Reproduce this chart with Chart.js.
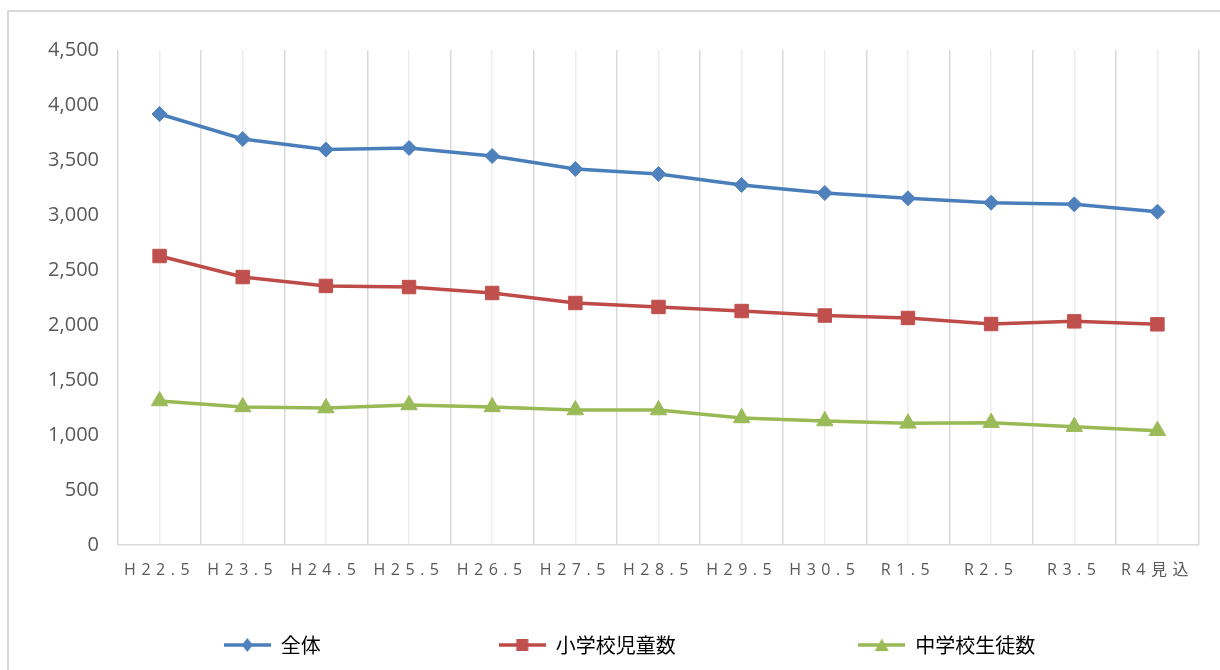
<!DOCTYPE html>
<html>
<head>
<meta charset="utf-8">
<script src="https://cdn.jsdelivr.net/npm/chart.js@4"></script>
<style>
  body { margin: 0; background: #fff; }
  #frame { position: absolute; left: 7px; top: 10px; width: 1230px; height: 680px; border: 2px solid #d9d9d9; }
  #wrap { position: absolute; left: 0; top: 0; width: 1220px; height: 670px; }
</style>
</head>
<body>
<div id="frame"></div>
<div id="wrap"><canvas id="chart-line"></canvas></div>
<script>
const categories = ['H22.5','H23.5','H24.5','H25.5','H26.5','H27.5','H28.5','H29.5','H30.5','R1.5','R2.5','R3.5','R4見込'];
const seriesNames = ['全体','小学校児童数','中学校生徒数'];
const total = [3918,3691,3595,3609,3536,3418,3373,3273,3200,3152,3112,3097,3030];
const elementary = [2627,2436,2355,2345,2291,2200,2164,2127,2086,2064,2009,2033,2006];
const juniorHigh = [1309,1255,1245,1273,1255,1227,1227,1155,1127,1106,1112,1076,1039];
const yTicks = [0,500,1000,1500,2000,2500,3000,3500,4000,4500];

const colors = ['#4a7ebb','#be4b48','#98b954'];
const markerFill = ['#4f81bd','#c0504d','#9bbb59'];
const markers = ['rectRot','rect','triangle'];
const markerSize = [7.5,9.5,9.5];

// legend swatch: a short line with the marker in the middle
function swatch(i) {
  const c = document.createElement('canvas');
  c.width = 47; c.height = 20;
  const g = c.getContext('2d');
  g.strokeStyle = colors[i];
  g.lineWidth = 3.5;
  g.beginPath(); g.moveTo(0, 10); g.lineTo(47, 10); g.stroke();
  g.fillStyle = markerFill[i];
  g.beginPath();
  if (i == 0) { g.moveTo(23.5, 3); g.lineTo(29, 10); g.lineTo(23.5, 17); g.lineTo(18, 10); }
  else if (i == 1) { g.rect(17.5, 4, 12, 12); }
  else { g.moveTo(23.5, 3.5); g.lineTo(30.5, 16); g.lineTo(16.5, 16); }
  g.closePath(); g.fill();
  return c;
}

// spacing after each legend text so the items sit far apart
const gaps = ['\u3000'.repeat(8), '\u3000'.repeat(8) + ' ', '\u3000\u3000    '];

const xLetterSpacing = {
  id: 'xLetterSpacing',
  afterLayout(chart) {
    const sc = chart.scales.x;
    if (sc._spaced) return;
    const orig = sc.drawLabels;
    sc.drawLabels = function(area) {
      chart.ctx.save();
      chart.ctx.letterSpacing = '5.5px';
      orig.call(this, area);
      chart.ctx.restore();
    };
    sc._spaced = true;
  }
};

const ctx = document.getElementById('chart-line').getContext('2d');
new Chart(ctx, {
  type: 'line',
  data: {
    labels: categories,
    datasets: [total, elementary, juniorHigh].map((d, i) => ({
      label: seriesNames[i],
      data: d,
      borderColor: colors[i],
      backgroundColor: markerFill[i],
      borderWidth: 3.5,
      tension: 0,
      pointStyle: markers[i],
      pointRadius: markerSize[i],
      pointHoverRadius: markerSize[i],
      pointBorderWidth: 1,
      pointBorderColor: markerFill[i],
      xAxisID: 'x'
    }))
  },
  options: {
    responsive: true,
    maintainAspectRatio: false,
    animation: false,
    layout: { padding: { left: 0, top: 50, right: 21, bottom: 5 } },
    plugins: {
      legend: {
        position: 'bottom',
        fullSize: false,
        labels: {
          usePointStyle: true,
          pointStyleWidth: 47,
          padding: 18,
          color: '#595959',
          font: { size: 20, family: "'Noto Sans CJK JP'" },
          generateLabels(chart) {
            return chart.data.datasets.map((ds, i) => ({
              text: ds.label + gaps[i],
              pointStyle: swatch(i),
              fillStyle: markerFill[i],
              strokeStyle: colors[i],
              lineWidth: 0,
              hidden: false,
              datasetIndex: i
            }));
          }
        }
      },
      tooltip: { enabled: false }
    },
    scales: {
      y: {
        min: 0,
        max: 4500,
        afterBuildTicks(scale) { scale.ticks = yTicks.map(v => ({ value: v })); },
        afterFit(scale) { scale.width = 118; },
        grid: { display: false, drawTicks: false },
        border: { display: false },
        ticks: {
          padding: 19,
          color: '#595959',
          font: { size: 20, family: "'Open Sans'" },
          callback: v => v.toLocaleString('en-US')
        }
      },
      x: {
        offset: true,
        afterFit(scale) { scale.height = 72; },
        grid: { offset: true, color: '#d9d9d9', lineWidth: 1.5, drawTicks: false },
        border: { color: '#d9d9d9', width: 1.5 },
        ticks: {
          padding: 16,
          color: '#595959',
          maxRotation: 0,
          autoSkip: false,
          font: { size: 16, family: "'Open Sans', 'Noto Sans CJK JP'" }
        }
      },
      x2: {
        type: 'category',
        labels: categories,
        position: 'bottom',
        offset: true,
        afterFit(scale) { scale.height = 0; },
        grid: { offset: false, color: '#eeeeee', lineWidth: 1.5, drawTicks: false },
        border: { display: false },
        ticks: { display: false }
      }
    }
  },
  plugins: [xLetterSpacing]
});
</script>
</body>
</html>
